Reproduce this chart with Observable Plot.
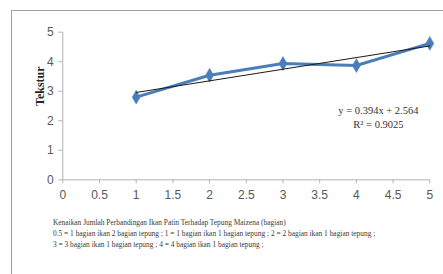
<!DOCTYPE html>
<html>
<head>
<meta charset="utf-8">
<script src="https://cdn.jsdelivr.net/npm/d3@7"></script>
<script src="https://cdn.jsdelivr.net/npm/@observablehq/plot@0.6"></script>
<style>
  html, body { margin: 0; padding: 0; background: #fff; overflow: hidden; }
  #wrap { position: relative; width: 443px; height: 274px; overflow: hidden; background: #fff; }
  #frame { position: absolute; left: 11px; top: 10px; width: 520px; height: 320px; border: 1.5px solid #a0a0a0; }
  #chart { position: absolute; left: 0; top: 0; }
  #caption { position: absolute; left: 53px; top: 217px; font-family: "Liberation Serif", "Times New Roman", serif;
    font-size: 7.4px; line-height: 11px; color: #3a3a3a; white-space: nowrap; }
</style>
</head>
<body>
<div id="wrap">
  <div id="frame"></div>
  <div id="chart"></div>
  <div id="caption"></div>
</div>
<script>
// ---- data ----
const xValues = [1, 2, 3, 4, 5];
const tekstur = [2.80, 3.54, 3.94, 3.87, 4.62];
const slope = 0.394;
const intercept = 2.564;
const equationLines = ["y = 0.394x + 2.564", "R\u00b2 = 0.9025"];
const xTicks = [0, 0.5, 1, 1.5, 2, 2.5, 3, 3.5, 4, 4.5, 5];
const yTicks = [0, 1, 2, 3, 4, 5];
const yLabel = "Tekstur";
const captionLines = [
  "Kenaikan  Jumlah Perbandingan Ikan  Patin Terhadap Tepung Maizena (bagian)",
  "0.5 = 1 bagian ikan 2 bagian tepung ; 1 = 1 bagian ikan 1 bagian tepung ; 2 = 2 bagian ikan 1 bagian tepung ;",
  "3 = 3 bagian ikan 1 bagian tepung ; 4 = 4 bagian ikan 1 bagian tepung ;"
];

const series = xValues.map((x, i) => ({x, y: tekstur[i]}));
const xExtent = d3.extent(xValues);
const trend = xExtent.map(x => ({x, y: slope * x + intercept}));

const blue = "#4a7ebb";
const axisGray = "#b3b3b3";
const tickFont = "'Liberation Sans Narrow', 'Arial Narrow', sans-serif";

const chart = Plot.plot({
  width: 443,
  height: 274,
  marginLeft: 62.3,
  marginRight: 13.7,
  marginTop: 31.7,
  marginBottom: 94.7,
  style: { background: "transparent", overflow: "visible" },
  x: { domain: [0, 5] },
  y: { domain: [0, 5] },
  marks: [
    Plot.ruleY([0], { stroke: axisGray, strokeWidth: 1 }),
    Plot.ruleX([0], { stroke: axisGray, strokeWidth: 1 }),
    Plot.axisX({ ticks: xTicks, tickFormat: d => String(d), tickSize: 4, tickPadding: 7, stroke: axisGray,
      fill: "#595959", fontSize: 12, fontFamily: tickFont, label: null }),
    Plot.axisY({ ticks: yTicks, tickFormat: d => String(d), tickSize: 4, tickPadding: 5, stroke: axisGray,
      fill: "#595959", fontSize: 12, fontFamily: tickFont, label: null }),
    Plot.text([yLabel], { frameAnchor: "left", dx: -23, rotate: -90, text: d => d,
      fontFamily: "'Liberation Serif', 'Times New Roman', serif", fontWeight: "bold", fontSize: 12,
      fill: "#262626", style: "letter-spacing: 1px" }),
    Plot.line(series, { x: "x", y: "y", stroke: blue, strokeWidth: 3 }),
    Plot.dot(series, { x: "x", y: "y", symbol: "diamond", r: 4.2, fill: blue, stroke: blue, strokeWidth: 0.5 }),
    Plot.line(trend, { x: "x", y: "y", stroke: "#1a1a1a", strokeWidth: 1 }),
    Plot.text([equationLines.join("\n")], { x: 4.3, y: 2.15, text: d => d, textAnchor: "middle",
      lineHeight: 1.35, fontSize: 10.5, fontFamily: "'Liberation Serif', 'Times New Roman', serif", fill: "#333" })
  ]
});
document.getElementById("chart").appendChild(chart);

const cap = document.getElementById("caption");
captionLines.forEach(t => { const d = document.createElement("div"); d.textContent = t; cap.appendChild(d); });
</script>
</body>
</html>
